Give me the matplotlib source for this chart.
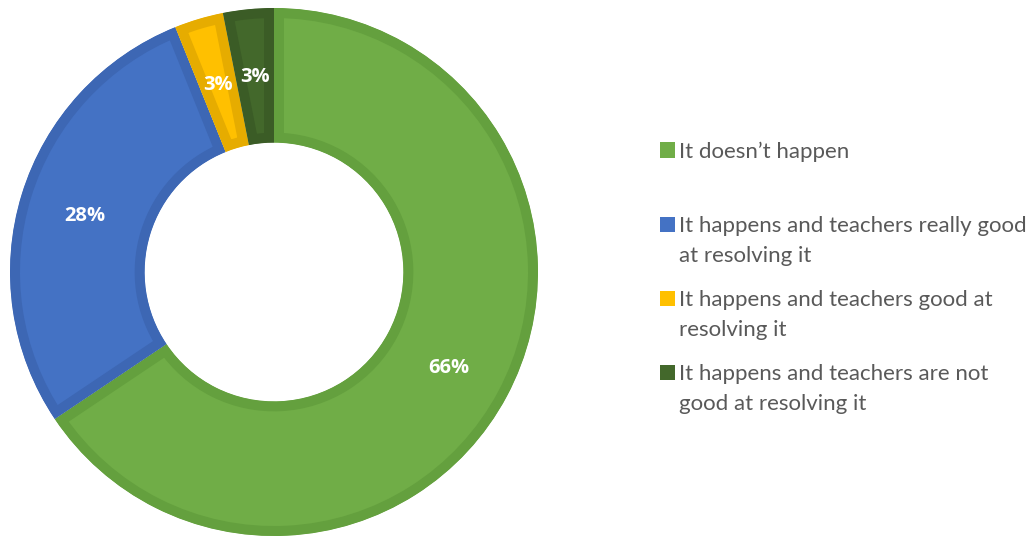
import matplotlib
matplotlib.use("Agg")
import matplotlib.pyplot as plt
from matplotlib.patches import Rectangle
import numpy as np

plt.rcParams['font.family'] = ['Lato', 'DejaVu Sans']

# Survey answers, clockwise from 12 o'clock
categories = [
    "It doesn\u2019t happen",
    "It happens and teachers really good\nat resolving it",
    "It happens and teachers good at\nresolving it",
    "It happens and teachers are not\ngood at resolving it",
]
shares = [65.6, 28.3, 3.0, 3.1]
pct_labels = ["66%", "28%", "3%", "3%"]

fill_colors = ["#70AD47", "#4472C4", "#FFC000", "#43682B"]
edge_colors = ["#64A03E", "#3D67B4", "#E6AC00", "#3B5C26"]

W, H = 1034, 539
fig = plt.figure(figsize=(W / 100, H / 100), dpi=100)

# donut axes: centre (274, 272) px, outer radius 264 px
cx, cy, r = 274, 272, 264
ax = fig.add_axes([(cx - r) / W, (H - cy - r) / H, 2 * r / W, 2 * r / H])

wedges, _ = ax.pie(shares, startangle=90, counterclock=False, colors=fill_colors,
                   radius=1.0, wedgeprops=dict(width=0.51, linewidth=0))
ax.set_xlim(-1, 1)
ax.set_ylim(-1, 1)
ax.set_aspect("equal")
ax.axis("off")

# darker inner border: thick edge clipped to the wedge itself
border_px = 10
for w, ec in zip(wedges, edge_colors):
    w.set_edgecolor(ec)
    w.set_linewidth(2 * border_px * 72 / 100)
    w.set_clip_on(True)
    w.set_clip_path(w)

# percentage labels at mid-ring
total = sum(shares)
cum = 0.0
for val, lab in zip(shares, pct_labels):
    mid = (cum + val / 2) / total
    ang = np.deg2rad(90 - 360 * mid)
    rr = 0.75
    ax.text(rr * np.cos(ang), rr * np.sin(ang), lab, ha="center", va="center_baseline",
            color="white", fontsize=14.5, fontweight="bold",
            family=["Open Sans", "DejaVu Sans"])
    cum += val

# legend drawn by hand: square + label lines, first line beside the square
entry_y = [150, 224.5, 298, 372]
sq = 15
for lab, col, y in zip(categories, fill_colors, entry_y):
    fig.patches.append(Rectangle((660 / W, (H - y - sq / 2) / H), sq / W, sq / H,
                                 transform=fig.transFigure, facecolor=col, edgecolor="none"))
    for i, line in enumerate(lab.split("\n")):
        base = y + 7.5 + 30 * i
        fig.text(679 / W, (H - base) / H, line, ha="left", va="baseline",
                 fontsize=16, color="#595959")

fig.savefig("out.png", dpi=100, facecolor="white")
